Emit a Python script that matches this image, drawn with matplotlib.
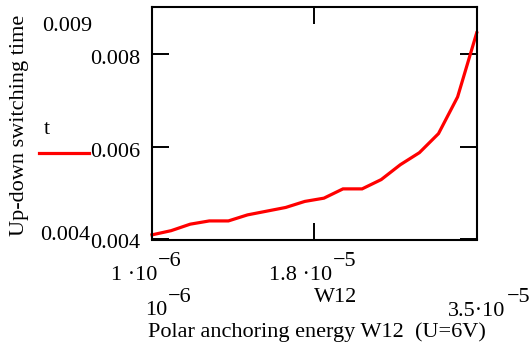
import matplotlib
matplotlib.use("Agg")
import matplotlib.pyplot as plt
from matplotlib.lines import Line2D

W12 = [1e-6, 3e-6, 5e-6, 7e-6, 9e-6, 11e-6, 13e-6, 15e-6, 17e-6, 19e-6,
       21e-6, 23e-6, 25e-6, 27e-6, 29e-6, 31e-6, 33e-6, 35e-6]
t = [0.00410, 0.00419, 0.00433, 0.00440, 0.00440, 0.00453, 0.00461, 0.00469,
     0.00482, 0.00489, 0.00509, 0.00509, 0.00529, 0.00561, 0.00587, 0.00628,
     0.00707, 0.00845]

y_ticks = [0.004, 0.006, 0.008]
x_ticks = [1e-6, 1.8e-5, 3.5e-5]

FW, FH = 530, 351
plt.rcParams['font.family'] = ['Liberation Serif', 'DejaVu Serif']
FS = 16

fig = plt.figure(figsize=(FW / 100, FH / 100), dpi=100)
ax = fig.add_axes([152 / FW, 1 - 239.5 / FH, (476.7 - 152) / FW, (239.5 - 7.3) / FH])
ax.plot(W12, t, color='#ff0000', lw=2.3, solid_joinstyle='miter', clip_on=False)
ax.set_xlim(1e-6, 3.5e-5)
ax.set_ylim(0.004, 0.009)
for s in ax.spines.values():
    s.set_linewidth(1.5)
ax.set_xticks(x_ticks)
ax.set_yticks(y_ticks)
ax.tick_params(direction='in', length=12, width=1.4, top=True, right=True,
               labelleft=False, labelbottom=False)


def fpx(x, y, s, **kw):
    kw.setdefault('fontsize', FS)
    fig.text(x / FW, 1 - y / FH, s, **kw)


def ylab(val, dx_px, dy_px, s):
    ax.annotate(s, xy=(0, val), xycoords=('axes fraction', 'data'),
                xytext=(dx_px * 0.72, dy_px * 0.72), textcoords='offset points',
                ha='right', va='center', fontsize=FS)


ylab(0.008, -12, -6, '0.008')
ylab(0.006, -12, -6, '0.006')
ylab(0.004, -12, -4, '0.004')
ylab(0.004, -62, 4, '0.004')
ylab(0.009, -60, -19, '0.009')

# y axis label
fpx(20, 125, 'Up-down switching time', rotation=90, ha='center', va='center')

# legend
fpx(47, 129, 't', ha='center', va='center')
fig.add_artist(Line2D([39 / FW, 89 / FW], [1 - 152.7 / FH, 1 - 152.7 / FH],
                      color='#ff0000', lw=2.3))

# x tick labels (Mathcad style)
fpx(157, 280, '1 ·10', ha='right', va='baseline')
fpx(158, 262, '−6', ha='left', va='center')
fpx(332, 280, '1.8 ·10', ha='right', va='baseline')
fpx(333, 262, '−5', ha='left', va='center')
fpx(167, 315, '10', ha='right', va='baseline')
fpx(168, 297, '−6', ha='left', va='center')
fpx(505, 316, '3.5·10', ha='right', va='baseline')
fpx(507, 298, '−5', ha='left', va='center')
fpx(336, 298, 'W12', ha='center', va='center')

fpx(317, 332, 'Polar anchoring energy W12  (U=6V)', ha='center', va='center')

fig.savefig('out.png', dpi=100)
